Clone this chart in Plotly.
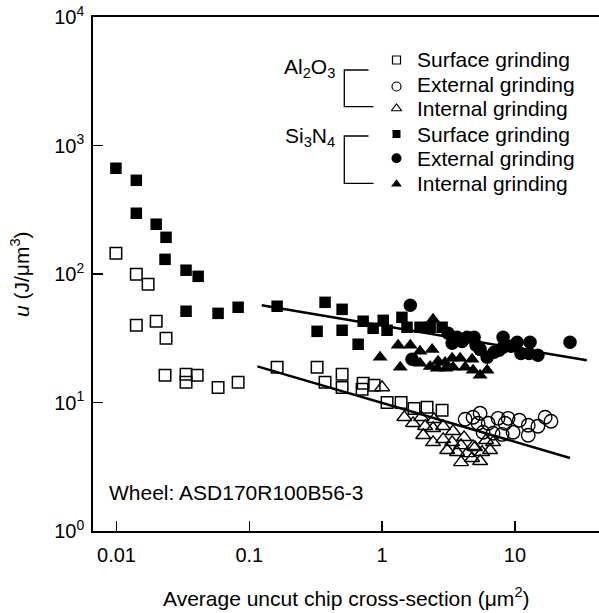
import plotly.graph_objects as go

# ---------------- data ----------------
# Si3N4 – surface grinding (filled squares)
si_surf_x = [0.0099, 0.0141, 0.0141, 0.0199, 0.0236, 0.0232, 0.0334, 0.0412, 0.0334, 0.0582,
             0.0824, 0.162, 0.372, 0.500, 0.324, 0.500, 0.720, 1.02, 1.41, 0.660,
             0.856, 1.09, 1.54, 1.93, 2.30, 2.83]
si_surf_u = [665, 536, 297, 244, 193, 130, 107, 95.9, 51.3, 49.4,
             55.1, 56.1, 60.2, 53.1, 35.8, 36.5, 42.9, 43.6, 46.0, 28.4,
             37.8, 36.5, 38.5, 38.5, 38.5, 38.5]

# Al2O3 – surface grinding (open squares)
al_surf_x = [0.0099, 0.0141, 0.0173, 0.0141, 0.0199, 0.0236, 0.0232, 0.0334, 0.0334, 0.0405,
             0.0582, 0.0824, 0.162, 0.324, 0.372, 0.500, 0.500, 0.720, 0.707, 0.871,
             1.09, 1.39, 1.74, 2.18, 2.83]
al_surf_u = [145, 99.5, 83.2, 39.9, 42.9, 31.6, 16.3, 16.6, 14.4, 16.3,
             13.1, 14.4, 18.8, 18.8, 14.4, 16.6, 13.1, 14.1, 12.7, 13.6,
             10.0, 10.0, 9.0, 9.2, 8.7]

# Si3N4 – external grinding (filled circles)
si_ext_x = [1.63, 1.68, 3.14, 3.37, 3.67, 4.00, 4.37, 4.93, 5.10, 5.47, 6.18,
            6.97, 7.60, 8.15, 8.15, 9.36, 10.4, 11.1, 13.0, 12.8, 14.9, 26.0]
si_ext_u = [57.1, 21.7, 34.6, 28.9, 32.2, 29.9, 32.2, 32.2, 27.9, 25.9, 22.5,
            24.6, 25.5, 32.2, 26.9, 27.4, 29.4, 24.1, 29.4, 24.1, 23.3, 29.4]

# Al2O3 – external grinding (open circles)
al_ext_x = [4.22, 4.84, 5.47, 5.28, 6.29, 7.47, 8.89, 8.44, 10.8, 12.6,
            14.9, 16.9, 18.7, 8.01, 9.69, 12.6, 5.76, 6.85]
al_ext_u = [7.40, 7.67, 8.24, 6.89, 6.89, 7.53, 7.53, 6.89, 7.27, 6.65,
            6.53, 7.67, 7.14, 5.65, 5.87, 5.56, 5.87, 5.76]

# Si3N4 – internal grinding (filled triangles)
si_int_x = [2.42, 0.966, 1.32, 1.63, 1.93, 2.38, 1.37, 1.93, 2.30, 2.64, 2.98,
            3.37, 3.87, 2.60, 3.03, 3.42, 4.22, 4.76, 4.84, 5.47, 6.18]
si_int_u = [44.4, 22.5, 27.9, 27.9, 25.0, 25.9, 18.8, 20.2, 19.1, 20.9, 20.5,
            22.1, 22.1, 18.5, 18.5, 18.8, 18.8, 21.7, 17.8, 16.3, 17.8]

# Al2O3 – internal grinding (open triangles)
al_int_x = [1.00, 1.47, 1.71, 1.97, 2.11, 2.46, 2.04, 2.42, 2.88, 3.42,
            2.42, 2.88, 3.37, 4.14, 3.09, 3.67, 3.93, 3.93, 4.37, 4.76,
            5.47, 5.01, 5.66, 6.07, 6.85, 6.50, 4.84]
al_int_u = [13.1, 7.67, 6.89, 7.67, 6.53, 7.40, 5.56, 6.30, 6.53, 5.97,
            4.90, 5.17, 4.90, 5.36, 4.25, 4.10, 4.64, 3.42, 4.02, 3.68,
            3.49, 4.48, 4.10, 5.08, 4.90, 4.25, 4.56]

# fitted trend lines (end points)
fit_si_x = [0.124, 34.8]
fit_si_u = [57.1, 21.3]
fit_al_x = [0.115, 26.0]
fit_al_u = [19.1, 3.70]

x_tick_vals = [0.01, 0.1, 1, 10]
x_tick_text = ["0.01", "0.1", "1", "10"]
y_tick_vals = [1, 10, 100, 1000, 10000]
y_tick_text = ["10<sup>0</sup>", "10<sup>1</sup>", "10<sup>2</sup>", "10<sup>3</sup>", "10<sup>4</sup>"]

legend_labels = ["Surface grinding", "External grinding", "Internal grinding",
                 "Surface grinding", "External grinding", "Internal grinding"]

# ---------------- layout helpers ----------------
W, H = 599, 613
ML, MR, MT, MB = 93, 0, 17, 82
PW, PH = W - ML - MR, H - MT - MB
FONT = "Liberation Sans, Arial, Helvetica, sans-serif"


def pxX(px):
    return (px - ML) / PW


def pxY(py):
    return (H - MB - py) / PH


BLACK = "black"
fig = go.Figure()

fig.add_trace(go.Scatter(x=al_surf_x, y=al_surf_u, mode="markers",
                         marker=dict(symbol="square-open", size=11.5, color=BLACK,
                                     line=dict(width=1.5, color=BLACK))))
fig.add_trace(go.Scatter(x=al_ext_x, y=al_ext_u, mode="markers",
                         marker=dict(symbol="circle-open", size=13.5, color=BLACK,
                                     line=dict(width=1.4, color=BLACK))))
fig.add_trace(go.Scatter(x=al_int_x, y=al_int_u, mode="markers",
                         marker=dict(symbol="triangle-up-open", size=13, color=BLACK,
                                     line=dict(width=1.4, color=BLACK))))
fig.add_trace(go.Scatter(x=si_surf_x, y=si_surf_u, mode="markers",
                         marker=dict(symbol="square", size=11.5, color=BLACK, line=dict(width=0))))
fig.add_trace(go.Scatter(x=si_ext_x, y=si_ext_u, mode="markers",
                         marker=dict(symbol="circle", size=13.5, color=BLACK, line=dict(width=0))))
fig.add_trace(go.Scatter(x=si_int_x, y=si_int_u, mode="markers",
                         marker=dict(symbol="triangle-up", size=13, color=BLACK, line=dict(width=0))))
fig.add_trace(go.Scatter(x=fit_si_x, y=fit_si_u, mode="lines", line=dict(color=BLACK, width=2.5)))
fig.add_trace(go.Scatter(x=fit_al_x, y=fit_al_u, mode="lines", line=dict(color=BLACK, width=2.5)))

# ---- legend drawn on an invisible overlay axis (paper-like 0..1 coords) ----
leg_x = pxX(396.5)
leg_y_px = [60, 86.5, 108.5, 134, 158.3, 184]
leg_sym = ["square-open", "circle-open", "triangle-up-open", "square", "circle", "triangle-up"]
leg_size = [8, 9, 9, 8, 10, 9.5]
for yy, sym, sz in zip(leg_y_px, leg_sym, leg_size):
    fig.add_trace(go.Scatter(x=[leg_x], y=[pxY(yy)], mode="markers", xaxis="x2", yaxis="y2",
                             cliponaxis=False,
                             marker=dict(symbol=sym, size=sz, color=BLACK,
                                         line=dict(width=1.2 if "open" in sym else 0, color=BLACK))))

for top, bot in [(70, 106.7), (136, 183.3)]:
    fig.add_trace(go.Scatter(x=[pxX(368.5), pxX(344.3), pxX(344.3), pxX(373.5)],
                             y=[pxY(top), pxY(top), pxY(bot), pxY(bot)],
                             mode="lines", xaxis="x2", yaxis="y2", cliponaxis=False,
                             line=dict(color=BLACK, width=1.3)))

annotations = []
text_y_px = [59.3, 85, 108.3, 134, 158.3, 183.3]
for yy, lab in zip(text_y_px, legend_labels):
    annotations.append(dict(x=pxX(414.5), y=pxY(yy), xref="paper", yref="paper", text=lab,
                            showarrow=False, xanchor="left", yanchor="middle",
                            font=dict(size=21, color=BLACK, family=FONT)))
annotations.append(dict(x=pxX(337), y=pxY(68), xref="paper", yref="paper",
                        text="Al<sub>2</sub>O<sub>3</sub>", showarrow=False,
                        xanchor="right", yanchor="middle", font=dict(size=21, color=BLACK, family=FONT)))
annotations.append(dict(x=pxX(337), y=pxY(137), xref="paper", yref="paper",
                        text="Si<sub>3</sub>N<sub>4</sub>", showarrow=False,
                        xanchor="right", yanchor="middle", font=dict(size=21, color=BLACK, family=FONT)))
annotations.append(dict(x=pxX(106.5), y=pxY(492), xref="paper", yref="paper",
                        text="Wheel: ASD170R100B56-3", showarrow=False,
                        xanchor="left", yanchor="middle", font=dict(size=21, color=BLACK, family=FONT)))
annotations.append(dict(x=pxX(346), y=pxY(597), xref="paper", yref="paper",
                        text="Average uncut chip cross-section (μm<sup>2</sup>)", showarrow=False,
                        xanchor="center", yanchor="middle", font=dict(size=21, color=BLACK, family=FONT)))
annotations.append(dict(x=pxX(20), y=0.5, xref="paper", yref="paper", textangle=-90,
                        text="<i>u</i> (J/μm<sup>3</sup>)", showarrow=False,
                        xanchor="center", yanchor="middle", font=dict(size=21, color=BLACK, family=FONT)))

x_left = -2 + (ML - 116.5) / 132.8
x_right = -2 + (W - MR - 116.5) / 132.8

fig.update_layout(
    width=W, height=H,
    margin=dict(l=ML, r=MR, t=MT, b=MB),
    paper_bgcolor="white", plot_bgcolor="white",
    showlegend=False,
    hovermode=False,
    font=dict(family=FONT, size=20, color=BLACK),
    annotations=annotations,
    xaxis=dict(type="log", range=[x_left, x_right], tickvals=x_tick_vals, ticktext=x_tick_text,
               ticks="inside", ticklen=10, tickwidth=1.5, tickcolor=BLACK,
               showline=True, linewidth=1.8, linecolor=BLACK, mirror=True,
               showgrid=False, zeroline=False, ticklabelstandoff=5,
               tickfont=dict(size=20, family=FONT, color=BLACK)),
    yaxis=dict(type="log", range=[0, 4], tickvals=y_tick_vals, ticktext=y_tick_text,
               ticks="inside", ticklen=10, tickwidth=1.5, tickcolor=BLACK,
               showline=True, linewidth=1.8, linecolor=BLACK, mirror=False,
               showgrid=False, zeroline=False, ticklabelstandoff=3,
               tickfont=dict(size=20, family=FONT, color=BLACK)),
    xaxis2=dict(overlaying="x", range=[0, 1], visible=False, anchor="y2"),
    yaxis2=dict(overlaying="y", range=[0, 1], visible=False, anchor="x2"),
)

# remove the browser's default 8px page margin so the figure fills the window exactly
fig.write_html("out.html",
               config={"displayModeBar": False, "staticPlot": True},
               post_script="document.body.style.margin='0';document.body.style.overflow='hidden';")
